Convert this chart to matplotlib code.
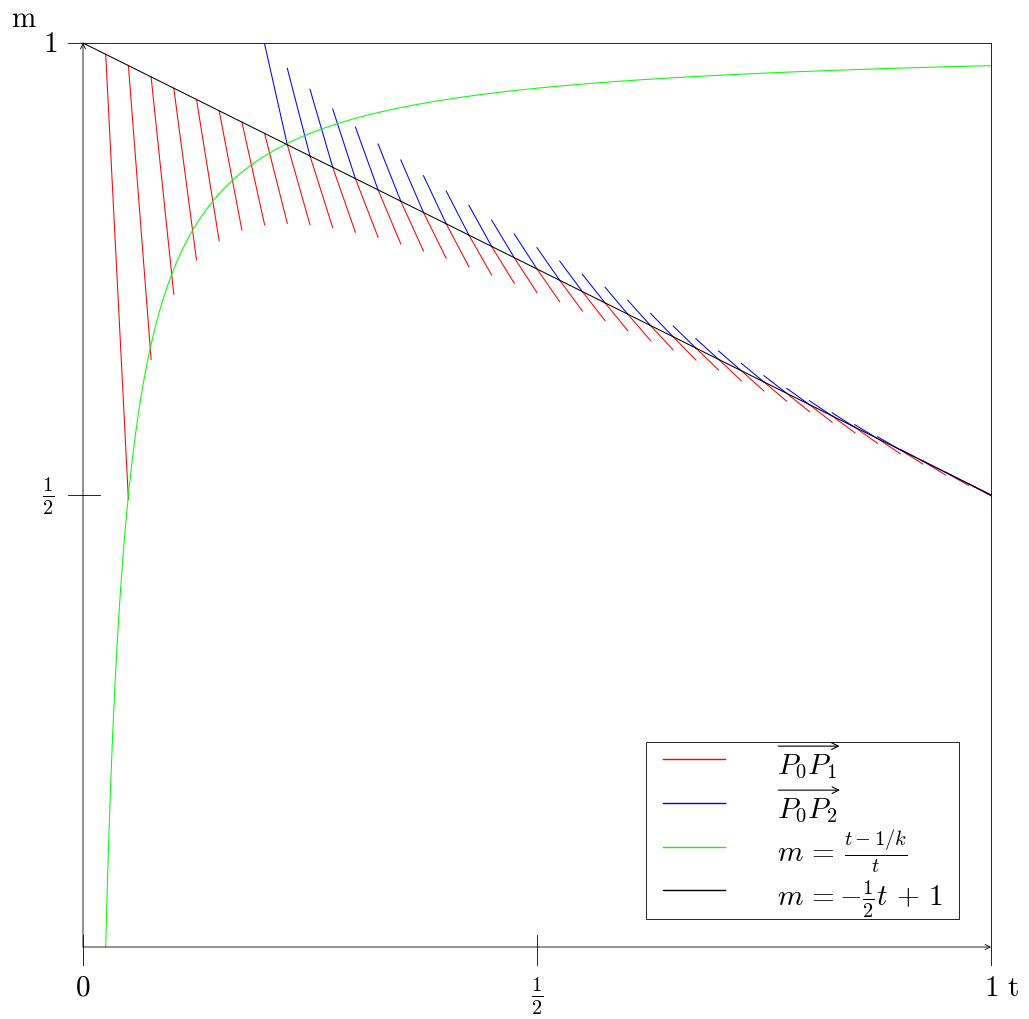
import numpy as np
import matplotlib
matplotlib.use("Agg")
import matplotlib.pyplot as plt
from matplotlib.patches import Rectangle

plt.rcParams["mathtext.fontset"] = "cm"
plt.rcParams["font.family"] = "serif"

# ------------------------------------------------------------
# data
# ------------------------------------------------------------
K = 40          # the k of m = (t - 1/k) / t
DT = 1.0 / K    # t-width of every P0P1 / P0P2 segment

# P0P1 (red): starts on the black line at red_t, ends at t + DT
red_t = [0.025, 0.050, 0.075, 0.100, 0.125, 0.150, 0.175, 0.200, 0.225, 0.250,
         0.275, 0.300, 0.325, 0.350, 0.375, 0.400, 0.425, 0.450, 0.475, 0.500,
         0.525, 0.550, 0.575, 0.600, 0.625, 0.650, 0.675, 0.700, 0.725, 0.750,
         0.775, 0.800, 0.825, 0.850, 0.875, 0.900, 0.925, 0.950, 0.975]
red_end_m = [0.495, 0.650, 0.722, 0.760, 0.781, 0.793, 0.799, 0.8005, 0.799, 0.7957,
             0.7906, 0.7851, 0.7777, 0.7699, 0.7618, 0.7525, 0.7434, 0.7342, 0.7238, 0.7138,
             0.7035, 0.6928, 0.6817, 0.6709, 0.6604, 0.6493, 0.6383, 0.6264, 0.6150, 0.6037,
             0.5922, 0.5805, 0.5689, 0.5572, 0.5457, 0.5343, 0.5221, 0.5107, 0.4989]

# P0P2 (blue): upper end at blue_t, lower end on the black line at t + DT
blue_t = [0.200, 0.225, 0.250, 0.275, 0.300, 0.325, 0.350, 0.375, 0.400, 0.425,
          0.450, 0.475, 0.500, 0.525, 0.550, 0.575, 0.600, 0.625, 0.650, 0.675,
          0.700, 0.725, 0.750, 0.775, 0.800, 0.825, 0.850, 0.875, 0.900, 0.925,
          0.950, 0.975]
blue_top_m = [0.9989, 0.9720, 0.9488, 0.9270, 0.9071, 0.8883, 0.8706, 0.8532, 0.8363, 0.8205,
              0.8042, 0.7887, 0.7736, 0.7588, 0.7441, 0.7298, 0.7154, 0.7010, 0.6869, 0.6729,
              0.6593, 0.6457, 0.6320, 0.6180, 0.6043, 0.5910, 0.5778, 0.5645, 0.5506, 0.5378,
              0.5254, 0.5128]

# legend rows; the first two get an arrow drawn over them
legend_labels = [r"$P_0P_1$",
                 r"$P_0P_2$",
                 r"$m\,=\,\frac{t-1/k}{t}$",
                 r"$m\,=-\frac{1}{2}t\,+\,1$"]
legend_is_vector = [True, True, False, False]
legend_colors = ["#ff0000", "#0000ff", "#00ff00", "black"]

x_ticks = [0.0, 0.5, 1.0]
x_tick_labels = [r"$0$", r"$\frac{1}{2}$", r"$1$"]
y_ticks = [0.5, 1.0]
y_tick_labels = [r"$\frac{1}{2}$", r"$1$"]


def line_m(t):
    return -0.5 * t + 1


def curve_m(t):
    return (t - 1.0 / K) / t


# ------------------------------------------------------------
# figure
# ------------------------------------------------------------
W, H = 1029, 1019
fig = plt.figure(figsize=(W / 100, H / 100), dpi=100)
ax = fig.add_axes([83 / W, 72 / H, 908 / W, 904 / H])
ax.set_xlim(0, 1)
ax.set_ylim(0, 1)
ax.axis("off")

LW = 0.75
AX_LW = 0.6

# red segments
for t0, m1 in zip(red_t, red_end_m):
    ax.plot([t0, t0 + DT], [line_m(t0), m1], color="#ff0000", lw=LW,
            clip_on=False, zorder=2)

# blue segments
for t0, m0 in zip(blue_t, blue_top_m):
    ax.plot([t0, t0 + DT], [m0, line_m(t0 + DT)], color="#0000ff", lw=LW,
            clip_on=False, zorder=2)

# green curve
tg = np.linspace(1.0 / K, 1.0, 600)
ax.plot(tg, curve_m(tg), color="#00ff00", lw=LW, clip_on=False, zorder=3)

# black line
ax.plot([0, 1], [line_m(0), line_m(1)], color="black", lw=LW,
        clip_on=False, zorder=4)

# axes with arrow heads
arrow = dict(arrowstyle="->", lw=AX_LW, color="black", shrinkA=0, shrinkB=0,
             mutation_scale=9)
ax.annotate("", xy=(1, 0), xytext=(0, 0), arrowprops=arrow,
            annotation_clip=False, zorder=5)
ax.annotate("", xy=(0, 1), xytext=(0, 0), arrowprops=arrow,
            annotation_clip=False, zorder=5)

# frame lines at m = 1 and t = 1
ax.plot([-0.0165, 1], [1, 1], color="black", lw=AX_LW, clip_on=False, zorder=5)
ax.plot([1, 1], [-0.0199, 1], color="black", lw=AX_LW, clip_on=False, zorder=5)

# ticks
for xt in x_ticks[:-1]:
    ax.plot([xt, xt], [-0.0199, 0.0133], color="black", lw=AX_LW,
            clip_on=False, zorder=5)
ax.plot([-0.0165, 0.0187], [0.5, 0.5], color="black", lw=AX_LW,
        clip_on=False, zorder=5)

FS = 21
for xt, lab in zip(x_ticks, x_tick_labels):
    if "frac" in lab:
        ax.text(xt, -0.0542, lab, fontsize=FS, ha="center", va="center")
    else:
        ax.text(xt, -0.0542, lab, fontsize=FS, ha="center", va="baseline")
for yt, lab in zip(y_ticks, y_tick_labels):
    if "frac" in lab:
        ax.text(-0.0385, yt - 0.002, lab, fontsize=FS, ha="center", va="center")
    else:
        ax.text(-0.0286, 0.990, lab, fontsize=FS, ha="right", va="baseline")

ax.text(1.0242, -0.0542, r"$\mathrm{t}$", fontsize=FS, ha="center", va="baseline")
ax.text(-0.065, 1.0177, r"$\mathrm{m}$", fontsize=FS, ha="center", va="baseline")

# legend box
lx0, lx1 = 0.620, 0.9648
ly0, ly1 = 0.031, 0.2264
ax.add_patch(Rectangle((lx0, ly0), lx1 - lx0, ly1 - ly0, fill=False,
                       lw=AX_LW, ec="black", clip_on=False, zorder=6))
row_m = [0.208, 0.1593, 0.111, 0.0627]
vec_texts = []
for m_row, lab, col, is_vec in zip(row_m, legend_labels, legend_colors,
                                   legend_is_vector):
    ax.plot([0.6384, 0.7070], [m_row, m_row], color=col, lw=1.0,
            clip_on=False, zorder=6)
    txt = ax.text(0.7647, m_row - 0.0171, lab, fontsize=FS, ha="left",
                  va="baseline", zorder=6)
    if is_vec:
        vec_texts.append(txt)

# arrows over P0P1 / P0P2, sized from the rendered text
fig.canvas.draw()
renderer = fig.canvas.get_renderer()
for txt in vec_texts:
    bb = txt.get_window_extent(renderer)
    y_arrow = bb.y1 + 7
    ax.annotate("", xy=(bb.x1 + 2, y_arrow), xytext=(bb.x0 + 1, y_arrow),
                xycoords="figure pixels", textcoords="figure pixels",
                arrowprops=dict(arrowstyle="->", lw=0.8, color="black",
                                shrinkA=0, shrinkB=0, mutation_scale=12),
                annotation_clip=False, zorder=6)

fig.savefig("out.png", dpi=100)
